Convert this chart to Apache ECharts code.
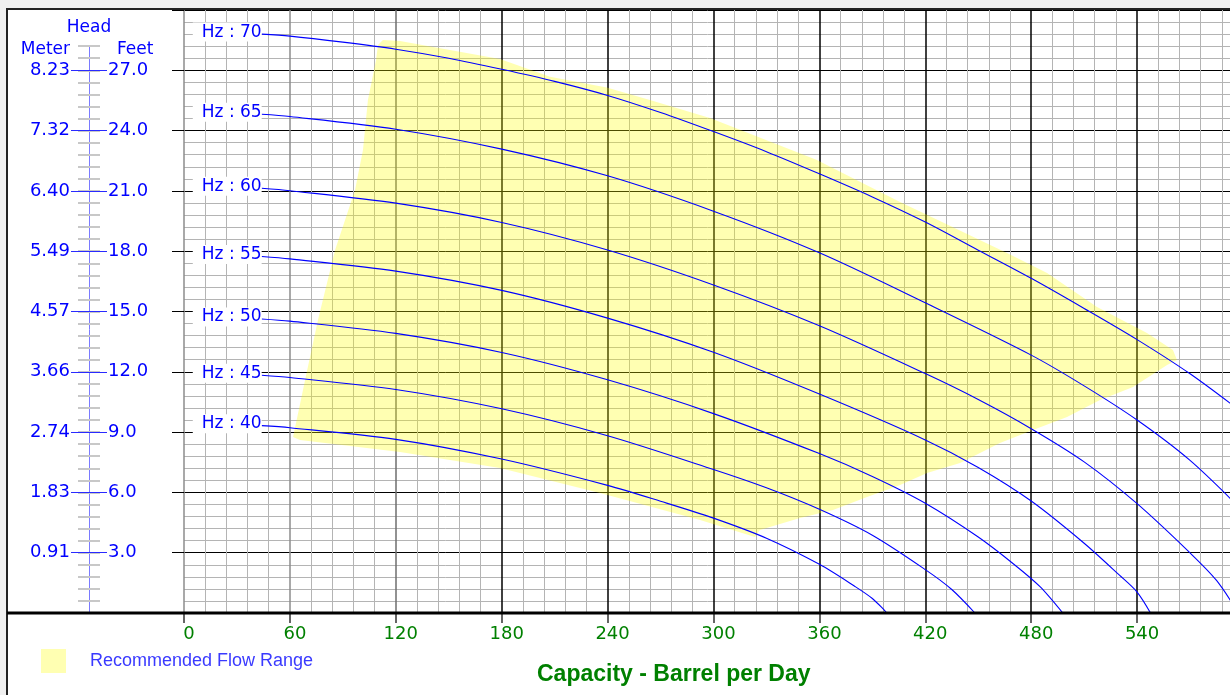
<!DOCTYPE html>
<html><head><meta charset="utf-8">
<script src="https://cdn.jsdelivr.net/npm/echarts@6/dist/echarts.min.js"></script>
<style>html,body{margin:0;padding:0;background:#fff}#c{width:1230px;height:695px}</style>
</head><body><div id="c"></div>
<script>
// ---- data ----
const hzNames = ['Hz : 70','Hz : 65','Hz : 60','Hz : 55','Hz : 50','Hz : 45','Hz : 40'];

const q70 = [44,60,90,120,150,180,210,240,270,300,330,360,390,420,450,480,510,540,570,600];
const h70 = [28.8,28.7,28.4,28.05,27.6,27.05,26.45,25.75,24.9,23.95,22.95,21.85,20.7,19.45,18.05,16.65,15.15,13.6,11.9,9.95];

const q65 = [44,60,120,180,240,300,360,420,480,510,540,570,600];
const h65 = [24.81,24.70,24.07,23.08,21.75,19.99,17.92,15.43,12.83,11.30,9.60,7.59,5.07];

const q60 = [44,60,120,180,240,300,360,420,450,480,510,540,570,585,597.4];
const h60 = [21.13,21.01,20.39,19.43,18.06,16.32,14.29,11.91,10.62,9.17,7.52,5.44,2.99,1.62,0];

const q55 = [44,60,120,180,240,300,360,420,450,480,510,530,540,547.6];
const h55 = [17.74,17.62,17.01,16.05,14.67,12.97,10.89,8.61,7.24,5.57,3.47,1.88,1.04,0];

const q50 = [44,60,120,180,240,300,360,390,420,450,470,485,497.9];
const h50 = [14.63,14.52,13.91,12.96,11.60,9.92,7.93,6.79,5.46,3.78,2.44,1.31,0];

const q45 = [44,60,120,180,240,300,330,360,390,420,435,448.1];
const h45 = [11.83,11.72,11.12,10.16,8.82,7.14,6.23,5.16,3.87,2.16,1.17,0];

const q40 = [44,60,120,180,240,270,300,330,360,380,390,398.3];
const h40 = [9.32,9.22,8.64,7.66,6.35,5.56,4.72,3.72,2.42,1.33,0.72,0];

// Recommended flow range outline (capacity, head in feet)
const flowQ = [61.8,68.6,75.9,85.6,96.9,101.4,104.2,108.8,109.9,112.7,122.4,150.7,179.0,207.4,239.5,264,298,358.6,405.7,466.3,489,517.3,545.6,560.3,562.6,557,545.6,537.7,519,500.3,481,462.3,439.7,421,405.7,387,367.7,349,326.3,323.5,292.4,235.7,179,122.4,65.7];
const flowH = [8.76,11.59,14.58,18.06,21.04,23.03,25.52,27.51,28.26,28.51,28.46,28.01,27.56,26.68,26.15,25.52,24.63,22.54,20.45,17.91,16.92,15.22,13.93,13.08,12.59,12.34,11.69,11.24,10.60,9.75,9.10,8.46,7.46,6.97,6.37,5.77,5.12,4.73,4.13,3.78,4.63,5.97,7.21,8.01,8.61];

const feetTicks   = [3,6,9,12,15,18,21,24,27];
const feetLabels  = ['3.0','6.0','9.0','12.0','15.0','18.0','21.0','24.0','27.0'];
const meterLabels = ['0.91','1.83','2.74','3.66','4.57','5.49','6.40','7.32','8.23'];
const xTickLabels = ['0','60','120','180','240','300','360','420','480','540','600'];

const curves = [[q70,h70],[q65,h65],[q60,h60],[q55,h55],[q50,h50],[q45,h45],[q40,h40]];

// ---- chart ----
const BLUE = '#0000ff';
const GREEN = '#008000';
const chart = echarts.init(document.getElementById('c'), null, {renderer:'canvas'});

const curveSeries = curves.map((c, i) => ({
  type: 'line', name: hzNames[i], xAxisIndex: 0, yAxisIndex: 0,
  smooth: 0.3,
  symbol: 'circle', symbolSize: 0, showSymbol: true,
  lineStyle: {color: BLUE, width: 1.1},
  itemStyle: {color: BLUE},
  emphasis: {disabled: true},
  label: {show: false, position: 'left', distance: 0, offset: [0, -2],
          formatter: hzNames[i], color: BLUE, fontFamily: 'DejaVu Sans', fontSize: 17,
          backgroundColor: '#ffffff', padding: [1, 0, 1, 9]},
  data: c[0].map((q, j) => j === 0 ? {value: [q, c[1][j]], label: {show: true}} : [q, c[1][j]]),
  z: 3
}));

const gridLine = '#b4b4b4';

const option = {
  animation: false,
  backgroundColor: '#ffffff',
  textStyle: {fontFamily: 'DejaVu Sans'},
  title: {
    text: 'Capacity - Barrel per Day', left: 537, top: 663, padding: 0,
    textStyle: {fontFamily: 'Liberation Sans', fontWeight: 'bold', fontSize: 23, color: GREEN}
  },
  legend: {
    left: 41, top: 649, padding: 0, itemWidth: 25, itemHeight: 24,
    data: [{name: 'Recommended Flow Range', icon: 'rect'}],
    textStyle: {fontFamily: 'Liberation Sans', fontSize: 18, color: '#3a3aff', padding: [0, 0, 0, 19]},
    selectedMode: false
  },
  grid: [
    {left: 184, top: 10, width: 1059, height: 603, outerBoundsMode: 'none', containLabel: false},
    {left: 89, width: 1, top: 613 - 28.2 * 20.1, height: 28.2 * 20.1, outerBoundsMode: 'none', containLabel: false},
    {left: 89, width: 1, top: 613 - 27 * 20.1, height: 27 * 20.1, outerBoundsMode: 'none', containLabel: false}
  ],
  xAxis: [
    {gridIndex: 0, type: 'value', min: 0, max: 600, interval: 60,
     axisLine: {show: false},
     axisTick: {show: true, length: 10, lineStyle: {color: '#333', width: 1.5}},
     axisLabel: {color: GREEN, fontFamily: 'DejaVu Sans', fontSize: 18, margin: 12, padding: [0, 0, 0, 10],
                 formatter: (v) => xTickLabels[Math.round(v / 60)] ?? ''},
     splitLine: {show: true, lineStyle: {width: 1.5, color: ['#8c8c8c','#8c8c8c','#6e6e6e','#000','#000','#000','#000','#000','#000','#000','#000']}},
     minorTick: {show: false, splitNumber: 5},
     minorSplitLine: {show: true, lineStyle: {color: gridLine, width: 1}}},
    {gridIndex: 1, type: 'value', show: false, min: 0, max: 1},
    {gridIndex: 2, type: 'value', show: false, min: 0, max: 1}
  ],
  yAxis: [
    {gridIndex: 0, type: 'value', position: 'left', min: 0, max: 30, interval: 3,
     axisLine: {show: false},
     axisTick: {show: true, length: 12, lineStyle: {color: '#000'}},
     axisLabel: {show: false},
     splitLine: {show: true, lineStyle: {color: '#000', width: 1}},
     minorTick: {show: false, splitNumber: 5},
     minorSplitLine: {show: true, lineStyle: {color: gridLine, width: 1}}},
    {gridIndex: 1, type: 'value', position: 'left', min: 0, max: 28.2, interval: 0.6,
     name: 'Head', nameLocation: 'end', nameGap: 19,
     nameTextStyle: {color: BLUE, fontFamily: 'DejaVu Sans', fontSize: 17, align: 'center', verticalAlign: 'middle'},
     axisLine: {show: true, lineStyle: {color: '#7a7aff', width: 1}},
     axisTick: {show: true, length: 11, lineStyle: {color: '#c8c8c8', width: 2}},
     axisLabel: {show: false}, splitLine: {show: false}},
    {gridIndex: 1, type: 'value', position: 'left', min: 0, max: 28.2, interval: 0.6,
     axisLine: {show: false},
     axisTick: {show: true, inside: true, length: 11, lineStyle: {color: '#c8c8c8', width: 2}},
     axisLabel: {show: false}, splitLine: {show: false}},
    {gridIndex: 2, type: 'value', position: 'left', min: 0, max: 27, interval: 3,
     name: 'Meter', nameLocation: 'end', nameGap: 21,
     nameTextStyle: {color: BLUE, fontFamily: 'DejaVu Sans', fontSize: 17, align: 'right', verticalAlign: 'middle', padding: [0, 19, 0, 0]},
     axisLine: {show: false},
     axisTick: {show: true, length: 18, lineStyle: {color: '#2a2aff', width: 1}},
     axisLabel: {show: true, margin: 19, color: BLUE, fontFamily: 'DejaVu Sans', fontSize: 18,
                 formatter: (v) => { const k = feetTicks.indexOf(v); return k >= 0 ? meterLabels[k] : ''; }},
     splitLine: {show: false}},
    {gridIndex: 2, type: 'value', position: 'left', min: 0, max: 27, interval: 3,
     name: 'Feet', nameLocation: 'end', nameGap: 21,
     nameTextStyle: {color: BLUE, fontFamily: 'DejaVu Sans', fontSize: 17, align: 'left', verticalAlign: 'middle', padding: [0, 0, 0, 28]},
     axisLine: {show: false},
     axisTick: {show: true, inside: true, length: 18, lineStyle: {color: '#2a2aff', width: 1}},
     axisLabel: {show: true, inside: true, margin: 19, color: BLUE, fontFamily: 'DejaVu Sans', fontSize: 18,
                 formatter: (v) => { const k = feetTicks.indexOf(v); return k >= 0 ? feetLabels[k] : ''; }},
     splitLine: {show: false}}
  ],
  series: [
    {type: 'custom', name: 'Recommended Flow Range', xAxisIndex: 0, yAxisIndex: 0,
     itemStyle: {color: 'rgba(255,255,0,0.3)'},
     emphasis: {disabled: true},
     data: [[flowQ[0], flowH[0]]],
     renderItem: (params, api) => ({
       type: 'polygon',
       shape: {points: flowQ.map((q, k) => api.coord([q, flowH[k]]))},
       style: {fill: api.visual('color')}
     }),
     z: 1}
  ].concat(curveSeries),
  graphic: [
    {type: 'rect', silent: true, z: 100, shape: {x: 0, y: 0, width: 1230, height: 8}, style: {fill: '#f0f0f0'}},
    {type: 'rect', silent: true, z: 100, shape: {x: 0, y: 0, width: 6, height: 695}, style: {fill: '#f0f0f0'}},
    {type: 'line', silent: true, z: 100, shape: {x1: 6, y1: 9, x2: 1230, y2: 9}, style: {stroke: '#222', lineWidth: 2}},
    {type: 'line', silent: true, z: 100, shape: {x1: 7, y1: 8, x2: 7, y2: 695}, style: {stroke: '#222', lineWidth: 2}},
    {type: 'line', silent: true, z: 100, shape: {x1: 7, y1: 613, x2: 1230, y2: 613}, style: {stroke: '#000', lineWidth: 3}}
  ]
};
chart.setOption(option);
</script></body></html>
